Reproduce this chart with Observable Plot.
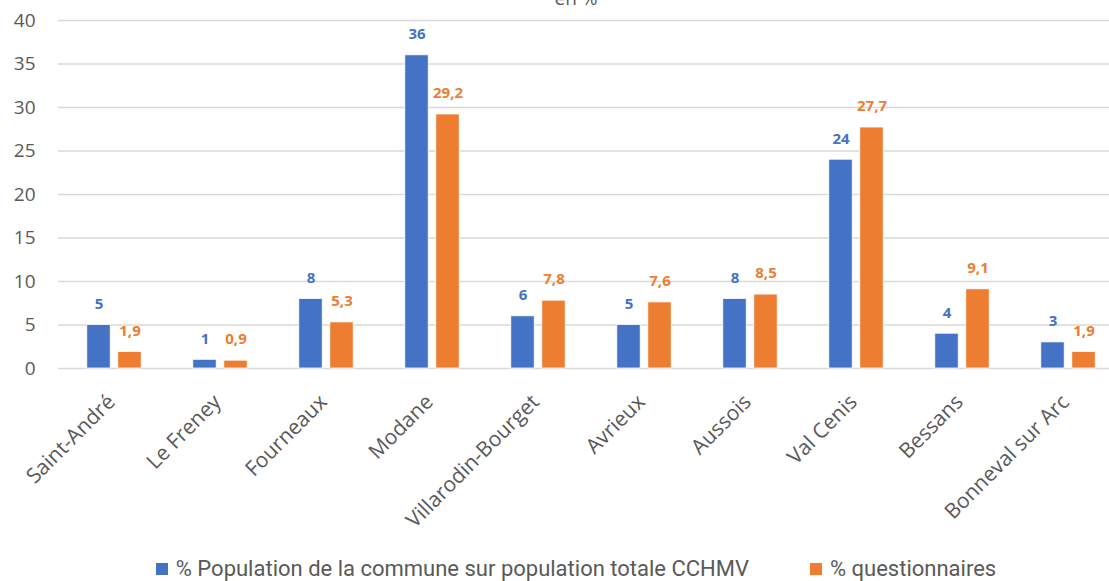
<!DOCTYPE html>
<html>
<head>
<meta charset="utf-8">
<script src="https://cdn.jsdelivr.net/npm/d3@7"></script>
<script src="https://cdn.jsdelivr.net/npm/@observablehq/plot@0.6"></script>
<style>
  html, body { margin: 0; padding: 0; background: #fff; overflow: hidden; }
  #wrap { position: relative; width: 1109px; height: 581px; }
  #title { position: absolute; top: -15px; left: 0; width: 1152px; text-align: center;
    font-family: "Open Sans", sans-serif; font-size: 19px; color: #595959; }
  #legend { position: absolute; top: 556px; left: 0; width: 1152px; display: flex; justify-content: center;
    font-family: Roboto, sans-serif; font-size: 22px; color: #595959; }
  .item { display: flex; align-items: center; white-space: nowrap; }
  .sw { width: 12px; height: 12px; margin-right: 8px; }
</style>
</head>
<body>
<div id="wrap">
  <div id="chart"></div>
  <div id="title">en %</div>
  <div id="legend"></div>
</div>
<script>
const communes = ["Saint-André", "Le Freney", "Fourneaux", "Modane", "Villarodin-Bourget", "Avrieux", "Aussois", "Val Cenis", "Bessans", "Bonneval sur Arc"];
const population = [5, 1, 8, 36, 6, 5, 8, 24, 4, 3];
const questionnaires = [1.9, 0.9, 5.3, 29.2, 7.8, 7.6, 8.5, 27.7, 9.1, 1.9];
const seriesNames = ["% Population de la commune sur population totale CCHMV", "% questionnaires"];
const colors = ["#4472C4", "#ED7D31"];
const yTicks = [0, 5, 10, 15, 20, 25, 30, 35, 40];

const pop = communes.map((c, i) => ({commune: c, value: population[i]}));
const quest = communes.map((c, i) => ({commune: c, value: questionnaires[i]}));
const fmt = v => String(v).replace(".", ",");

const bandW = 106.6;
const chart = Plot.plot({
  width: 1109,
  height: 550,
  marginTop: 20,
  marginLeft: 58,
  marginRight: 0,
  marginBottom: 182,
  x: {domain: communes, range: [58.2, 58.2 + bandW * 10], padding: 0, label: null},
  y: {domain: [0, 40], ticks: yTicks, label: null},
  style: {fontFamily: "'Open Sans', sans-serif", color: "#595959", background: "white"},
  marks: [
    Plot.ruleY(yTicks, {stroke: "#d9d9d9", strokeWidth: 1.3}),
    Plot.axisY({ticks: yTicks, tickSize: 0, tickPadding: 23, fontSize: 19, label: null, fill: "#595959"}),
    Plot.axisX({tickSize: 0, tickRotate: -45, fontSize: 21, tickPadding: 30, dx: -3, label: null, fill: "#595959"}),
    Plot.barY(pop, {x: "commune", y: "value", fill: colors[0], stroke: "white", strokeWidth: 0.8, insetLeft: 25.8, insetRight: 56.8}),
    Plot.barY(quest, {x: "commune", y: "value", fill: colors[1], stroke: "white", strokeWidth: 0.8, insetLeft: 56.8, insetRight: 25.8}),
    Plot.text(pop, {x: "commune", y: "value", text: d => fmt(d.value), dx: -15.5, dy: -21, fill: colors[0], fontWeight: "bold", fontSize: 15, lineAnchor: "middle"}),
    Plot.text(quest, {x: "commune", y: "value", text: d => fmt(d.value), dx: 15.5, dy: -21, fill: colors[1], fontWeight: "bold", fontSize: 15, lineAnchor: "middle"})
  ]
});
document.getElementById("chart").appendChild(chart);

const legend = document.getElementById("legend");
seriesNames.forEach((name, i) => {
  const item = document.createElement("div");
  item.className = "item";
  if (i > 0) item.style.marginLeft = "61px";
  const sw = document.createElement("div");
  sw.className = "sw";
  sw.style.background = colors[i];
  const label = document.createElement("span");
  label.textContent = name;
  item.appendChild(sw);
  item.appendChild(label);
  legend.appendChild(item);
});
</script>
</body>
</html>
